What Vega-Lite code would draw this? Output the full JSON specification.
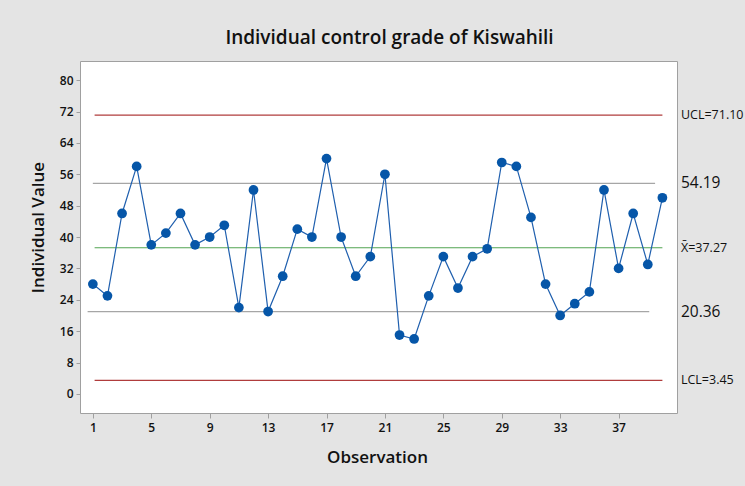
{
  "$schema": "https://vega.github.io/schema/vega-lite/v6.json",
  "autosize": "none",
  "width": 597,
  "height": 352,
  "padding": {"left": 80, "top": 61, "right": 68, "bottom": 73},
  "background": "#e4e4e4",
  "title": {
    "text": "Individual control grade of Kiswahili",
    "font": "Open Sans",
    "fontSize": 19,
    "fontWeight": 600,
    "color": "#111111",
    "anchor": "middle",
    "dx": 11,
    "offset": 13
  },
  "config": {
    "view": {"fill": "white", "stroke": "#a0a0a0", "strokeWidth": 1},
    "font": "Open Sans",
    "axis": {"labelOverlap": false, "labelFlush": false}
  },
  "datasets": {
    "obs": [
      {"obs": 1, "value": 28}, {"obs": 2, "value": 25}, {"obs": 3, "value": 46}, {"obs": 4, "value": 58},
      {"obs": 5, "value": 38}, {"obs": 6, "value": 41}, {"obs": 7, "value": 46}, {"obs": 8, "value": 38},
      {"obs": 9, "value": 40}, {"obs": 10, "value": 43}, {"obs": 11, "value": 22}, {"obs": 12, "value": 52},
      {"obs": 13, "value": 21}, {"obs": 14, "value": 30}, {"obs": 15, "value": 42}, {"obs": 16, "value": 40},
      {"obs": 17, "value": 60}, {"obs": 18, "value": 40}, {"obs": 19, "value": 30}, {"obs": 20, "value": 35},
      {"obs": 21, "value": 56}, {"obs": 22, "value": 15}, {"obs": 23, "value": 14}, {"obs": 24, "value": 25},
      {"obs": 25, "value": 35}, {"obs": 26, "value": 27}, {"obs": 27, "value": 35}, {"obs": 28, "value": 37},
      {"obs": 29, "value": 59}, {"obs": 30, "value": 58}, {"obs": 31, "value": 45}, {"obs": 32, "value": 28},
      {"obs": 33, "value": 20}, {"obs": 34, "value": 23}, {"obs": 35, "value": 26}, {"obs": 36, "value": 52},
      {"obs": 37, "value": 32}, {"obs": 38, "value": 46}, {"obs": 39, "value": 33}, {"obs": 40, "value": 50}
    ],
    "lines": [
      {"kind": "limit", "y": 71.10, "start": 1.12, "end": 40},
      {"kind": "center", "y": 37.27, "start": 1.12, "end": 40},
      {"kind": "limit", "y": 3.45, "start": 1.12, "end": 40},
      {"kind": "ref", "y": 53.7, "start": 1.0, "end": 39.5},
      {"kind": "ref", "y": 20.96, "start": 0.64, "end": 39.1}
    ],
    "labels": [
      {"label": "UCL=71.10", "y": 71.10, "big": false},
      {"label": "54.19", "y": 53.7, "big": true},
      {"label": "X̄=37.27", "y": 37.27, "big": false},
      {"label": "20.36", "y": 20.96, "big": true},
      {"label": "LCL=3.45", "y": 3.45, "big": false}
    ]
  },
  "encoding": {
    "x": {
      "type": "quantitative",
      "scale": {"domain": [0.12, 41.0], "nice": false, "zero": false},
      "axis": {
        "values": [1, 5, 9, 13, 17, 21, 25, 29, 33, 37],
        "title": "Observation",
        "titleFont": "Open Sans",
        "titleFontSize": 17,
        "titleFontWeight": 600,
        "titleColor": "#111111",
        "titleY": 49,
        "titleX": 297,
        "titleBaseline": "alphabetic",
        "labelFont": "Open Sans",
        "labelFontSize": 12,
        "labelFontWeight": 600,
        "labelColor": "#111111",
        "labelPadding": 4,
        "tickColor": "#a0a0a0",
        "tickSize": 5,
        "domain": false,
        "grid": false
      }
    },
    "y": {
      "type": "quantitative",
      "scale": {"domain": [-4.87, 84.88], "nice": false, "zero": false},
      "axis": {
        "values": [0, 8, 16, 24, 32, 40, 48, 56, 64, 72, 80],
        "title": "Individual Value",
        "titleFont": "Open Sans",
        "titleFontSize": 17,
        "titleFontWeight": 600,
        "titleColor": "#111111",
        "titleAngle": -90,
        "titleX": -42,
        "titleY": 166,
        "titleAlign": "center",
        "titleBaseline": "middle",
        "labelFont": "Open Sans",
        "labelFontSize": 12,
        "labelFontWeight": 600,
        "labelColor": "#111111",
        "labelPadding": 3,
        "tickColor": "#a0a0a0",
        "tickSize": 4,
        "domain": false,
        "grid": false
      }
    }
  },
  "layer": [
    {
      "data": {"name": "lines"},
      "mark": {"type": "rule", "strokeWidth": 1.2},
      "encoding": {
        "x": {"field": "start"},
        "x2": {"field": "end"},
        "y": {"field": "y"},
        "color": {
          "field": "kind", "type": "nominal",
          "scale": {"domain": ["limit", "center", "ref"], "range": ["#b03c3c", "#52a552", "#a6a6a6"]},
          "legend": null
        }
      }
    },
    {
      "data": {"name": "obs"},
      "mark": {"type": "line", "color": "#1f5fae", "strokeWidth": 1.2},
      "encoding": {
        "x": {"field": "obs"},
        "y": {"field": "value"}
      }
    },
    {
      "data": {"name": "obs"},
      "mark": {"type": "point", "filled": true, "color": "#0656a8", "opacity": 1, "size": 95},
      "encoding": {
        "x": {"field": "obs"},
        "y": {"field": "value"}
      }
    },
    {
      "data": {"name": "labels"},
      "transform": [{"filter": "!datum.big"}],
      "mark": {"type": "text", "align": "left", "baseline": "middle", "font": "Open Sans", "fontSize": 12.5, "color": "#111111"},
      "encoding": {
        "x": {"datum": 41.27},
        "y": {"field": "y"},
        "text": {"field": "label"}
      }
    },
    {
      "data": {"name": "labels"},
      "transform": [{"filter": "datum.big"}],
      "mark": {"type": "text", "align": "left", "baseline": "middle", "font": "Open Sans", "fontSize": 15.5, "color": "#111111"},
      "encoding": {
        "x": {"datum": 41.27},
        "y": {"field": "y"},
        "text": {"field": "label"}
      }
    }
  ]
}
